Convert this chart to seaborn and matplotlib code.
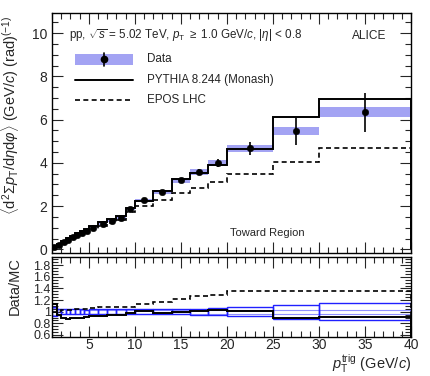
import numpy as np
import pandas as pd
import matplotlib
matplotlib.use("Agg")
import matplotlib.pyplot as plt
from matplotlib.patches import Rectangle
from matplotlib.ticker import MultipleLocator
import seaborn as sns

# ---- data ----
bin_edges = [1, 1.5, 2, 2.5, 3, 3.5, 4, 4.5, 5, 6, 7, 8, 9, 10, 12, 14, 16, 18, 20, 25, 30, 40]
data_vals = [0.10, 0.22, 0.34, 0.45, 0.56, 0.66, 0.76, 0.86, 1.00, 1.16, 1.31, 1.47, 1.88, 2.27, 2.65, 3.19, 3.58, 4.00, 4.68, 5.46, 6.34]
data_stat = [0.005, 0.005, 0.006, 0.007, 0.008, 0.009, 0.01, 0.012, 0.015, 0.02, 0.03, 0.04, 0.05, 0.06, 0.08, 0.10, 0.14, 0.18, 0.30, 0.63, 0.90]
data_sys = [0.006, 0.01, 0.015, 0.02, 0.022, 0.025, 0.028, 0.03, 0.035, 0.04, 0.045, 0.05, 0.06, 0.08, 0.09, 0.11, 0.12, 0.14, 0.16, 0.18, 0.23]
pythia_vals = [0.089, 0.235, 0.385, 0.51, 0.63, 0.74, 0.845, 0.95, 1.09, 1.25, 1.40, 1.56, 1.92, 2.25, 2.70, 3.23, 3.54, 3.89, 4.63, 6.11, 6.94]
epos_vals = [0.10, 0.217, 0.33, 0.435, 0.54, 0.635, 0.725, 0.82, 0.94, 1.08, 1.21, 1.35, 1.73, 1.99, 2.27, 2.62, 2.82, 3.12, 3.47, 4.03, 4.68]
x_ticks = [5, 10, 15, 20, 25, 30, 35, 40]

edges = np.array(bin_edges)
centers = 0.5 * (edges[:-1] + edges[1:])
df = pd.DataFrame({"pt": centers, "val": data_vals, "stat": data_stat, "sys": data_sys,
                   "pythia": pythia_vals, "epos": epos_vals})
df["r_py"] = df["val"] / df["pythia"]
df["r_ep"] = df["val"] / df["epos"]
df["tot"] = np.sqrt(df["stat"] ** 2 + df["sys"] ** 2) / df["val"]

sns.set_theme(style="ticks")
plt.rcParams["font.family"] = ["Liberation Sans", "DejaVu Sans"]
plt.rcParams["mathtext.fontset"] = "custom"
plt.rcParams["mathtext.rm"] = "Liberation Sans"
plt.rcParams["mathtext.it"] = "Liberation Sans:italic"
plt.rcParams["mathtext.sf"] = "Liberation Sans"

fig = plt.figure(figsize=(4.31, 3.76), dpi=100)
ax = fig.add_axes([52 / 431, 1 - 253 / 376, 359 / 431, 240 / 376])
axr = fig.add_axes([52 / 431, 1 - 337 / 376, 359 / 431, 80 / 376])

band_col = "#a3a3f3"
for i in range(len(centers)):
    ax.add_patch(Rectangle((edges[i], df.val[i] - df.sys[i]), edges[i + 1] - edges[i], 2 * df.sys[i],
                           facecolor=band_col, edgecolor="none", zorder=1))
ax.stairs(df["pythia"], edges, color="black", lw=1.4, zorder=3)
ax.stairs(df["epos"], edges, color="black", lw=1.2, ls=(0, (3, 2)), zorder=3)
ax.errorbar(df["pt"], df["val"], yerr=df["stat"], fmt="none", ecolor="black", elinewidth=1.2, zorder=4)
sns.scatterplot(data=df, x="pt", y="val", ax=ax, color="black", s=22, edgecolor="black", zorder=5, legend=False)

ax.set_xlim(1, 40)
ax.set_ylim(-0.17, 10.93)
ax.set_xlabel("")
ax.set_ylabel(r"$\langle$d$^{2}\Sigma p_{\rm T}$/d$\eta$d$\varphi\rangle$ (GeV/$c$) (rad)$^{(-1)}$",
              fontsize=10.5, loc="top")
ax.yaxis.set_label_coords(-0.085, 0.99)
ax.yaxis.set_major_locator(MultipleLocator(2))
ax.yaxis.set_minor_locator(MultipleLocator(0.5))
ax.xaxis.set_major_locator(MultipleLocator(5))
ax.xaxis.set_minor_locator(MultipleLocator(1))
ax.tick_params(axis="both", which="both", direction="in", top=True, right=True, labelsize=10, width=0.8)
ax.tick_params(axis="x", labelbottom=False)
ax.tick_params(which="major", length=8)
ax.tick_params(which="minor", length=4)

# legend (manual layout, ROOT style)
fs = 8.4
ax.add_patch(Rectangle((0.065, 0.785), 0.16, 0.045, transform=ax.transAxes, facecolor=band_col, edgecolor="none"))
ax.plot([0.145], [0.807], transform=ax.transAxes, marker="o", color="black", ms=4.5)
ax.plot([0.145, 0.145], [0.78, 0.835], transform=ax.transAxes, color="black", lw=1.2)
ax.plot([0.065, 0.225], [0.722, 0.722], transform=ax.transAxes, color="black", lw=1.4)
ax.plot([0.065, 0.225], [0.638, 0.638], transform=ax.transAxes, color="black", lw=1.2, ls=(0, (3, 2)))
ax.text(0.265, 0.807, "Data", transform=ax.transAxes, fontsize=fs, va="center")
ax.text(0.265, 0.722, "PYTHIA 8.244 (Monash)", transform=ax.transAxes, fontsize=fs, va="center")
ax.text(0.265, 0.638, "EPOS LHC", transform=ax.transAxes, fontsize=fs, va="center")
ax.text(0.048, 0.905, r"pp, $\sqrt{s}$ = 5.02 TeV, $p_{\rm T}$ $\geq$ 1.0 GeV/$c$, |$\eta$| < 0.8",
        transform=ax.transAxes, fontsize=8.4, va="center")
ax.text(0.835, 0.905, "ALICE", transform=ax.transAxes, fontsize=8.6, va="center")
ax.text(0.495, 0.085, "Toward Region", transform=ax.transAxes, fontsize=8, va="center")

# ratio panel
for i in range(len(centers)):
    w = edges[i + 1] - edges[i]
    h = df.tot[i]
    axr.add_patch(Rectangle((edges[i], 1 - h), w, 2 * h, facecolor="none", edgecolor="#2020ff", lw=1.0, zorder=2))
    hs = df.sys[i] / df.val[i]
    axr.add_patch(Rectangle((edges[i], 1 - hs), w, 2 * hs, facecolor="none", edgecolor="#9090ff", lw=0.8, zorder=1))
axr.stairs(df["r_py"], edges, color="black", lw=1.4, zorder=3)
axr.stairs(df["r_ep"], edges, color="black", lw=1.2, ls=(0, (3, 2)), zorder=3)
axr.set_xlim(1, 40)
axr.set_ylim(0.565, 1.94)
axr.set_ylabel("Data/MC", fontsize=10.5, loc="top")
axr.yaxis.set_label_coords(-0.085, 1.0)
axr.set_xlabel(r"$p_{\rm T}^{\rm trig}$ (GeV/$c$)", fontsize=10.5, loc="right")
axr.xaxis.set_label_coords(1.0, -0.2)
axr.set_xticks(x_ticks)
axr.xaxis.set_minor_locator(MultipleLocator(1))
axr.yaxis.set_major_locator(MultipleLocator(0.2))
axr.yaxis.set_minor_locator(MultipleLocator(0.05))
axr.tick_params(axis="both", which="both", direction="in", top=True, right=True, labelsize=10, width=0.8)
axr.tick_params(which="major", length=8)
axr.tick_params(which="minor", length=4)
axr.tick_params(axis="x", pad=1)
axr.tick_params(axis="y", pad=1, labelsize=9)
axr.set_yticks([0.6, 0.8, 1.0, 1.2, 1.4, 1.6, 1.8])
axr.set_yticklabels(["0.6", "0.8", "1", "1.2", "1.4", "1.6", "1.8"])

for a in (ax, axr):
    for s in a.spines.values():
        s.set_linewidth(1.0)
        s.set_color("black")

fig.savefig("out.png", dpi=100)
